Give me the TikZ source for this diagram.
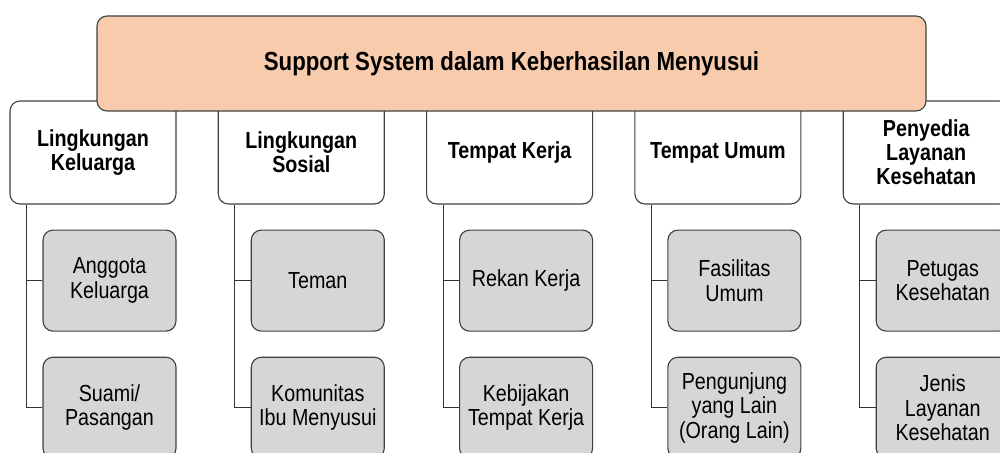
\documentclass[tikz,border=0pt]{standalone}
\usepackage{fontspec}
\setmainfont[FakeStretch=0.85]{Liberation Sans}
\usetikzlibrary{positioning}
\definecolor{peach}{RGB}{248,203,173}
\definecolor{boxgrey}{RGB}{214,214,214}
\definecolor{edgegrey}{RGB}{64,64,64}

\begin{document}
\begin{tikzpicture}[
    topbox/.style={rectangle, rounded corners=0.25cm, draw=edgegrey, fill=peach, line width=0.8pt, minimum width=20.725cm, minimum height=2.375cm, font=\fontsize{18.6}{21}\selectfont\bfseries},
    catbox/.style={rectangle, rounded corners=0.25cm, draw=edgegrey, fill=white, line width=0.8pt, minimum width=4.15cm, minimum height=2.575cm, align=center, font=\fontsize{16.5}{17}\selectfont\bfseries},
    itembox/.style={rectangle, rounded corners=0.25cm, draw=edgegrey, fill=boxgrey, line width=0.8pt, minimum width=3.325cm, minimum height=2.525cm, align=center, font=\fontsize{16.5}{17.4}\selectfont},
    link/.style={draw=black!80, line width=0.7pt}]
    \useasboundingbox (0,0) rectangle (25,11.325);
    % Category boxes, each with two items below
    \foreach \i/\txt/\ta/\tb in {
        1/{Lingkungan\\Keluarga}/{Anggota\\Keluarga}/{Suami/\\Pasangan},
        2/{Lingkungan\\Sosial}/{Teman}/{Komunitas\\Ibu Menyusui},
        3/{Tempat Kerja}/{Rekan Kerja}/{Kebijakan\\Tempat Kerja},
        4/{Tempat Umum}/{Fasilitas\\Umum}/{Pengunjung\\yang Lain\\(Orang Lain)},
        5/{Penyedia\\Layanan\\Kesehatan}/{Petugas\\Kesehatan}/{Jenis\\Layanan\\Kesehatan}} {
        \node[catbox] (c\i) at ({2.325+5.2075*(\i-1)},7.5125) {\txt};
        \node[itembox, anchor=north east] (a\i) at ([yshift=-0.625cm]c\i.south east) {\ta};
        \node[itembox, below=0.625cm of a\i] (b\i) {\tb};
        \draw[link] ([xshift=0.425cm]c\i.south west) |- (b\i.west);
        \draw[link] (a\i.west) -| ([xshift=0.425cm]c\i.south west);
    }

    % Title box on top
    \node[topbox] (top) at (12.7875,9.7375) {Support System dalam Keberhasilan Menyusui};
\end{tikzpicture}
\end{document}
